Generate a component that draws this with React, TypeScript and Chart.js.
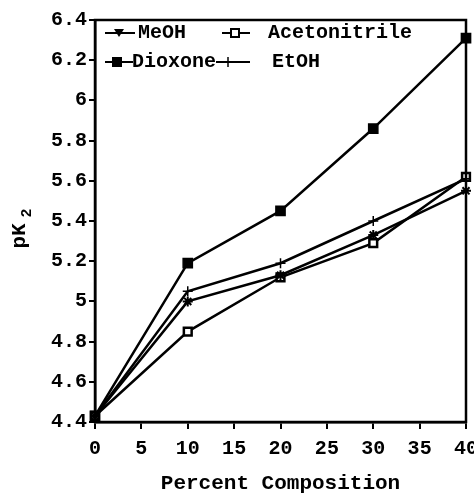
import React, { useEffect, useRef } from "react";
import { Chart, registerables } from "chart.js";

Chart.register(...registerables);

const xValues = [0, 10, 20, 30, 40];
const meoh = [4.43, 5.0, 5.13, 5.33, 5.55];
const acetonitrile = [4.43, 4.85, 5.12, 5.29, 5.62];
const dioxone = [4.43, 5.19, 5.45, 5.86, 6.31];
const etoh = [4.43, 5.05, 5.19, 5.4, 5.61];

const seriesNames = ["MeOH", "Acetonitrile", "Dioxone", "EtOH"];
const xTitle = "Percent Composition";
const yTitleMain = "pK";
const yTitleSub = "2";

const FONT = "'Liberation Mono', monospace";

function drawMarker(ctx: CanvasRenderingContext2D, kind: string, x: number, y: number) {
  ctx.save();
  ctx.strokeStyle = "#000";
  ctx.fillStyle = "#000";
  ctx.lineWidth = 2;
  if (kind === "star") {
    ctx.beginPath();
    ctx.moveTo(x - 5, y - 4);
    ctx.lineTo(x + 5, y - 4);
    ctx.lineTo(x, y + 4);
    ctx.closePath();
    ctx.fill();
  } else if (kind === "open") {
    ctx.fillStyle = "#fff";
    ctx.fillRect(x - 4, y - 4, 8, 8);
    ctx.strokeRect(x - 4, y - 4, 8, 8);
  } else if (kind === "filled") {
    ctx.fillRect(x - 5, y - 5, 10, 10);
  } else if (kind === "cross") {
    ctx.lineWidth = 1.5;
    ctx.beginPath();
    ctx.moveTo(x, y - 5);
    ctx.lineTo(x, y + 5);
    ctx.stroke();
  }
  ctx.restore();
}

const legendPlugin = {
  id: "customLegend",
  afterDraw(chart: any) {
    const ctx: CanvasRenderingContext2D = chart.ctx;
    const { left, top, right, bottom } = chart.chartArea;
    ctx.save();
    ctx.strokeStyle = "#000";
    ctx.lineWidth = 2.5;
    ctx.strokeRect(left, top, right - left, bottom - top);

    const items = [
      { name: seriesNames[0], kind: "star", x0: 105, x1: 135, mx: 119, tx: 138, y: 33 },
      { name: seriesNames[1], kind: "open", x0: 222, x1: 250, mx: 235, tx: 268, y: 33 },
      { name: seriesNames[2], kind: "filled", x0: 105, x1: 133, mx: 117, tx: 132, y: 62 },
      { name: seriesNames[3], kind: "cross", x0: 216, x1: 250, mx: 228, tx: 272, y: 62 },
    ];
    ctx.font = `bold 20px ${FONT}`;
    ctx.fillStyle = "#000";
    ctx.textBaseline = "middle";
    ctx.textAlign = "left";
    for (const it of items) {
      ctx.strokeStyle = "#000";
      ctx.lineWidth = 2;
      ctx.beginPath();
      ctx.moveTo(it.x0, it.y);
      ctx.lineTo(it.x1, it.y);
      ctx.stroke();
      drawMarker(ctx, it.kind, it.mx, it.y);
      ctx.fillText(it.name, it.tx, it.y);
    }

    ctx.translate(20, 232);
    ctx.rotate(-Math.PI / 2);
    ctx.font = `bold 21px ${FONT}`;
    ctx.textAlign = "center";
    ctx.textBaseline = "middle";
    ctx.fillText(yTitleMain, -4, 0);
    ctx.font = `bold 15px ${FONT}`;
    ctx.fillText(yTitleSub, 19, 7);
    ctx.restore();
  },
};

export default function App() {
  const ref = useRef<HTMLCanvasElement | null>(null);
  useEffect(() => {
    if (!ref.current) return;
    const mk = (label: string, data: number[], extra: any) => ({
      label,
      data: xValues.map((x, i) => ({ x, y: data[i] })),
      borderColor: "#000",
      borderWidth: 2.5,
      backgroundColor: "#000",
      pointBorderColor: "#000",
      pointRadius: 5,
      pointBorderWidth: 1.5,
      clip: false,
      ...extra,
    });
    const chart = new Chart(ref.current, {
      type: "line",
      data: {
        datasets: [
          mk(seriesNames[3], etoh, { pointStyle: "cross", pointRadius: 5 }),
          mk(seriesNames[0], meoh, { pointStyle: "star", pointRadius: 5, pointBorderWidth: 2 }),
          mk(seriesNames[1], acetonitrile, { pointStyle: "rect", pointBackgroundColor: "#fff", pointRadius: 5.5, pointBorderWidth: 2.5 }),
          mk(seriesNames[2], dioxone, { pointStyle: "rect", pointBackgroundColor: "#000", pointRadius: 6.5 }),
        ],
      },
      options: {
        responsive: false,
        animation: false,
        layout: { padding: { top: 20, right: 8, left: 0, bottom: 0 } },
        plugins: { legend: { display: false }, tooltip: { enabled: false } },
        scales: {
          x: {
            type: "linear",
            min: 0,
            max: 40,
            afterFit: (s: any) => {
              s.height = 76;
              s.paddingRight = 0;
              s.paddingLeft = 0;
            },
            border: { display: true, color: "#000", width: 2.5 },
            grid: { display: true, drawOnChartArea: false, drawTicks: true, tickLength: 7, color: "#000", lineWidth: 2 },
            ticks: {
              stepSize: 5,
              color: "#000",
              padding: 8,
              font: { family: FONT, size: 20, weight: "bold" },
            },
            title: {
              display: true,
              text: xTitle,
              color: "#000",
              padding: { top: 0, bottom: 2 },
              font: { family: FONT, size: 21, weight: "bold" },
            },
          },
          y: {
            type: "linear",
            min: 4.4,
            max: 6.4,
            afterFit: (s: any) => {
              s.width = 95;
              s.paddingTop = 0;
              s.paddingBottom = 0;
            },
            border: { display: true, color: "#000", width: 2.5 },
            grid: { display: true, drawOnChartArea: false, drawTicks: true, tickLength: 6, color: "#000", lineWidth: 2 },
            ticks: {
              stepSize: 0.2,
              color: "#000",
              padding: 2,
              font: { family: FONT, size: 20, weight: "bold" },
              callback: (v: any) => String(Math.round(Number(v) * 10) / 10),
            },
          },
        },
      },
      plugins: [legendPlugin],
    } as any);
    return () => chart.destroy();
  }, []);
  return (
    <div style={{ position: "fixed", left: 0, top: 0, width: 474, height: 498, background: "#fff" }}>
      <canvas ref={ref} width={474} height={498} style={{ width: 474, height: 498 }} />
    </div>
  );
}
